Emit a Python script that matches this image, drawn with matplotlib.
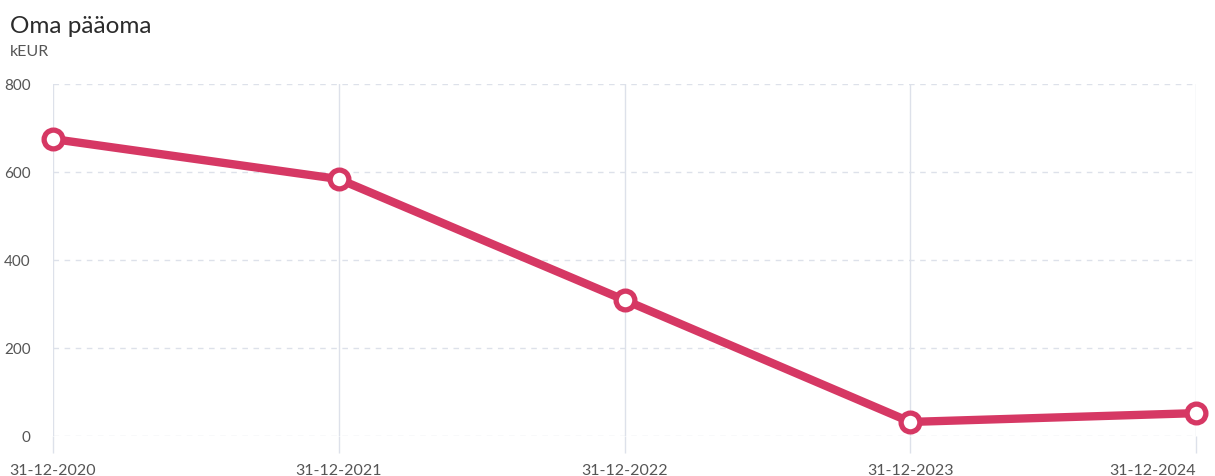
import matplotlib
matplotlib.use("Agg")
import matplotlib.pyplot as plt

dates = ["31-12-2020", "31-12-2021", "31-12-2022", "31-12-2023", "31-12-2024"]
equity = [675, 584, 309, 32, 52]
y_ticks = [0, 200, 400, 600, 800]

LINE = "#d63864"
GRID = "#dde1ea"
TEXT = "#555555"

plt.rcParams["font.family"] = ["Lato", "DejaVu Sans"]

fig = plt.figure(figsize=(12.15, 4.76), dpi=100)
ax = fig.add_axes([0.0436, 0.084, 0.9408, 0.7395])

x = list(range(len(dates)))
ax.plot(x, equity, color=LINE, linewidth=6, solid_capstyle="round", zorder=3,
        marker="o", markersize=13.5, markerfacecolor="white",
        markeredgecolor=LINE, markeredgewidth=3.8, clip_on=False)

ax.set_xlim(0, len(dates) - 1)
ax.set_ylim(0, 800)
ax.set_xticks(x)
ax.set_xticklabels(dates)
ax.set_yticks(y_ticks)

for s in ax.spines.values():
    s.set_visible(False)

for v in y_ticks:
    ax.axhline(v, color=GRID, linewidth=1, linestyle=(0, (4, 4)), zorder=1)
for xi in x:
    ax.axvline(xi, color=GRID, linewidth=1, zorder=1)

ax.tick_params(axis="x", length=12, width=1, color=GRID, pad=8, labelsize=11.5, labelcolor=TEXT)
ax.tick_params(axis="y", length=0, pad=16, labelsize=11, labelcolor=TEXT)

labels = ax.get_xticklabels()
labels[0].set_horizontalalignment("center")
labels[-1].set_horizontalalignment("right")

fig.text(0.008, 0.945, "Oma pääoma", fontsize=17.5, color="#2b2b2b", va="center", ha="left")
fig.text(0.008, 0.89, "kEUR", fontsize=11.5, color=TEXT, va="center", ha="left")

fig.savefig("out.png", dpi=100, facecolor="white")
